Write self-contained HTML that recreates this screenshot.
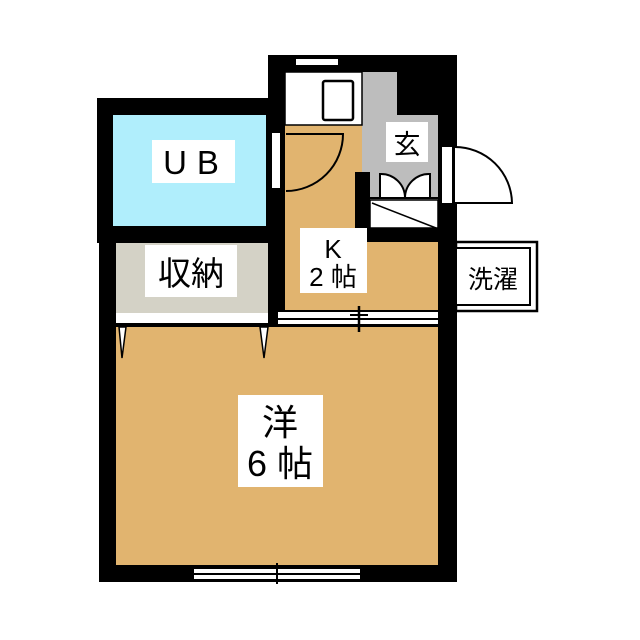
<!DOCTYPE html>
<html><head><meta charset="utf-8"><style>body{margin:0;background:#fff}svg{display:block}text{font-family:"Liberation Sans","Noto Sans CJK JP",sans-serif;fill:#000}</style></head>
<body>
<svg width="640" height="640" viewBox="0 0 640 640" xmlns="http://www.w3.org/2000/svg">
<rect width="640" height="640" fill="#fff"/>
<rect x="97" y="98" width="188" height="145" fill="#000"/>
<rect x="99" y="243" width="358" height="339" fill="#000"/>
<rect x="268" y="55" width="189" height="527" fill="#000"/>
<rect x="113" y="115" width="153" height="111" fill="#b0eefc"/>
<rect x="116" y="243" width="152" height="70" fill="#d4d2c6"/>
<rect x="285" y="125" width="153" height="185" fill="#e1b46f"/>
<rect x="362" y="72" width="76" height="128" fill="#bdbdbd"/>
<rect x="397" y="72" width="41" height="43" fill="#000"/>
<rect x="285" y="72" width="77" height="53" fill="#fff"/>
<rect x="285" y="72" width="77" height="53" fill="none" stroke="#000" stroke-width="1.5"/>
<rect x="323" y="81" width="30" height="39" rx="2" fill="#fff" stroke="#000" stroke-width="2.5"/>
<rect x="296" y="59" width="42" height="6" fill="#fff"/>
<rect x="355" y="172" width="15" height="70" fill="#000"/>
<rect x="355" y="228" width="83" height="14" fill="#000"/>
<rect x="370" y="200" width="68" height="28" fill="#fff" stroke="#000" stroke-width="1.5"/>
<line x1="372" y1="203" x2="436" y2="228" stroke="#000" stroke-width="1.5"/>
<path d="M380 198 V174 A24 24 0 0 1 405 198 Z" fill="#fff" stroke="#000" stroke-width="2"/>
<path d="M430 198 V174 A24 24 0 0 0 405 198 Z" fill="#fff" stroke="#000" stroke-width="2"/>
<line x1="362" y1="198" x2="438" y2="198" stroke="#000" stroke-width="2"/>
<path d="M286 191 A57 57 0 0 0 343 134 H286" fill="none" stroke="#000" stroke-width="2"/>
<rect x="272" y="133" width="8" height="55" fill="#fff"/>
<rect x="442" y="147" width="10" height="56" fill="#fff"/>
<path d="M455 147 A57 57 0 0 1 512 203 H455" fill="#fff" stroke="#000" stroke-width="2"/>
<rect x="116" y="327" width="322" height="238" fill="#e1b46f"/>
<rect x="116" y="313" width="152" height="10" fill="#fff"/>
<path d="M119 327 L126 327 L122 358 Z" fill="#fff" stroke="#000" stroke-width="1.5"/>
<path d="M260 327 L268 327 L264 358 Z" fill="#fff" stroke="#000" stroke-width="1.5"/>
<rect x="278" y="312" width="160" height="6" fill="#fff"/>
<rect x="278" y="320" width="160" height="4" fill="#fff"/>
<line x1="359" y1="306" x2="359" y2="332" stroke="#000" stroke-width="2.5"/>
<line x1="350" y1="315" x2="368" y2="315" stroke="#000" stroke-width="2"/>
<rect x="194" y="569" width="166" height="4" fill="#fff"/>
<rect x="194" y="575" width="166" height="4" fill="#fff"/>
<line x1="277" y1="563" x2="277" y2="584" stroke="#000" stroke-width="2"/>
<rect x="456" y="242" width="81" height="69" fill="#fff" stroke="#000" stroke-width="2.5"/>
<rect x="456" y="248" width="74" height="57" fill="#fff" stroke="#000" stroke-width="2"/>
<text x="493" y="288" font-size="25" text-anchor="middle">洗濯</text>
<rect x="152" y="140" width="83" height="43" fill="#fff"/>
<text x="196" y="174" font-size="33" text-anchor="middle" letter-spacing="10">UB</text>
<rect x="145" y="245" width="92" height="52" fill="#fff"/>
<text x="191" y="285" font-size="33" text-anchor="middle">収納</text>
<rect x="386" y="122" width="42" height="40" fill="#fff"/>
<text x="407" y="154" font-size="27" text-anchor="middle">玄</text>
<rect x="300" y="228" width="67" height="65" fill="#fff"/>
<text x="333" y="258" font-size="26" text-anchor="middle">K</text>
<text x="333" y="286" font-size="26" text-anchor="middle">2 帖</text>
<rect x="238" y="395" width="85" height="92" fill="#fff"/>
<text x="280" y="435" font-size="36" text-anchor="middle">洋</text>
<text x="280" y="476" font-size="36" text-anchor="middle">6 帖</text>
</svg>
</body></html>
